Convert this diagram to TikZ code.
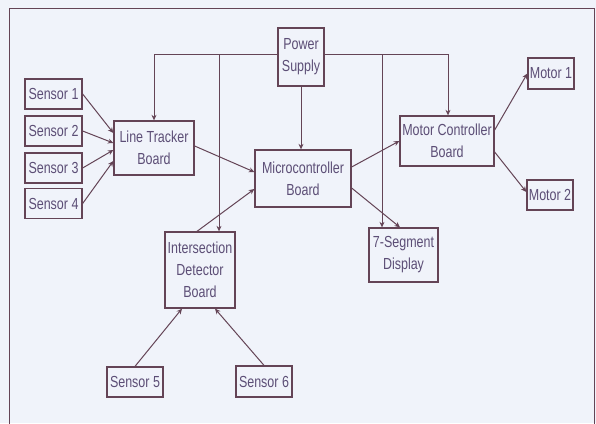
\documentclass[tikz,border=0pt]{standalone}
\usepackage{fontspec}
\setmainfont{Liberation Sans}[FakeStretch=0.78]
\usetikzlibrary{arrows.meta}
\definecolor{bgc}{RGB}{240,243,250}
\definecolor{linec}{RGB}{100,68,86}
\definecolor{textc}{RGB}{92,78,118}
\begin{document}
\begin{tikzpicture}[x=1pt,y=-1pt,
  box/.style={draw=linec,line width=1.3pt,fill=bgc,rectangle,inner sep=0pt,align=center,
    text=textc,font=\fontsize{16}{22}\selectfont},
  arr/.style={draw=linec,line width=1pt,-{Stealth[length=5.5pt,width=5pt]}},
  ln/.style={draw=linec,line width=1pt}]
\useasboundingbox (0,0) rectangle (596,423);
\fill[bgc] (0,0) rectangle (596,423);
\draw[draw=linec,line width=1pt] (9,430) -- (9,8) -- (594,8) -- (594,430);
% nodes
\node[box,minimum width=57pt,minimum height=30pt] (s1) at (53.5,94) {Sensor 1};
\node[box,minimum width=57pt,minimum height=30pt] (s2) at (53.5,131) {Sensor 2};
\node[box,minimum width=57pt,minimum height=30pt] (s3) at (53.5,168) {Sensor 3};
\node[box,minimum width=57pt,minimum height=30pt] (s4) at (53.5,203.5) {Sensor 4};
\node[box,minimum width=80pt,minimum height=54pt] (lt) at (154,148) {Line Tracker\\Board};
\node[box,minimum width=46pt,minimum height=58pt] (ps) at (301,57) {Power\\Supply};
\node[box,minimum width=96pt,minimum height=57pt] (mc) at (303,178.5) {Microcontroller\\Board};
\node[box,minimum width=94pt,minimum height=50pt] (mcb) at (447,141) {Motor Controller\\Board};
\node[box,minimum width=46pt,minimum height=31pt] (m1) at (551,73.5) {Motor 1};
\node[box,minimum width=46pt,minimum height=30pt] (m2) at (550,195) {Motor 2};
\node[box,minimum width=70pt,minimum height=76pt] (idb) at (200,270) {Intersection\\Detector\\Board};
\node[box,minimum width=56pt,minimum height=30pt] (s5) at (135,382) {Sensor 5};
\node[box,minimum width=56pt,minimum height=31pt] (s6) at (264,381.5) {Sensor 6};
\node[box,minimum width=69pt,minimum height=54pt] (seg) at (403.5,255) {7-Segment\\Display};
% power distribution
\coordinate (j1) at (219,54);
\coordinate (j2) at (382,54);
\draw[arr] ([yshift=3pt]ps.west) -| (lt.north);
\draw[arr] (j1) -- (j1 |- idb.north);
\draw[arr] ([yshift=3pt]ps.east) -| ([xshift=1pt]mcb.north);
\draw[arr] (j2) -- (j2 |- seg.north);
\draw[arr] (ps.south) -- (ps.south |- mc.north);
% sensors to line tracker
\draw[arr] (s1.east) -- ([yshift=15pt]lt.west);
\draw[arr] (s2.east) -- ([yshift=5pt]lt.west);
\draw[arr] (s3.east) -- ([yshift=-2pt]lt.west);
\draw[arr] (s4.east) -- ([yshift=-13pt]lt.west);
% boards
\draw[arr] ([yshift=2pt]lt.east) -- ([yshift=6.5pt]mc.west);
\draw[arr] ([xshift=-3pt]idb.north) -- ([yshift=-10.5pt]mc.west);
\draw[arr] ([yshift=11.5pt]mc.east) -- (mcb.west);
\draw[arr] ([yshift=-9.5pt]mc.east) -- ([xshift=-3.5pt]seg.north);
\draw[arr] ([yshift=11pt]mcb.east) -- (m1.west);
\draw[arr] ([yshift=-11pt]mcb.east) -- ([yshift=3pt]m2.west);
\draw[arr] (s5.north) -- ([xshift=-18pt]idb.south);
\draw[arr] (s6.north) -- ([xshift=15pt]idb.south);
\end{tikzpicture}
\end{document}
